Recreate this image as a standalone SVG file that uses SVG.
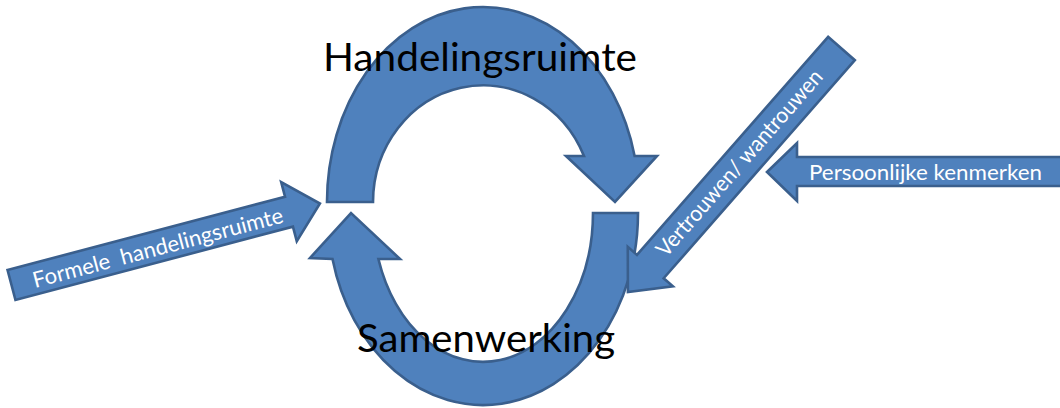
<svg xmlns="http://www.w3.org/2000/svg" width="1060" height="408" viewBox="0 0 1060 408">
  <style>
    .shape { fill: #4f81bd; stroke: #3a5f8d; stroke-width: 2.6; stroke-linejoin: miter; }
    .big { font-family: "Lato", "Open Sans", "Liberation Sans", sans-serif; font-size: 38px; fill: #000000; }
    .lbl { font-family: "Lato", "Open Sans", "Liberation Sans", sans-serif; font-size: 22px; fill: #ffffff; white-space: pre; }
  </style>
  <rect width="1060" height="408" fill="#ffffff"/>

  <!-- the two curved arrows forming the cycle -->
  <g id="connectors">
    <path class="shape" d="M 327,202 A 156 195 0 0 1 634.6,156 L 657,156 L 615,202 L 566,156 L 584,156 A 110 117 0 0 0 373,202 Z"/>
    <path class="shape" d="M 593,213 L 638,213 A 155 192 0 0 1 332.5,259 L 310,258 L 351,213 L 400,259 L 378.4,259 A 110 149 0 0 0 593,213 Z"/>
  </g>

  <g id="handelingsruimte">
    <text class="big" x="323" y="71" textLength="314" lengthAdjust="spacingAndGlyphs">Handelingsruimte</text>
  </g>

  <g id="samenwerking">
    <text class="big" x="357" y="352" textLength="258" lengthAdjust="spacingAndGlyphs">Samenwerking</text>
  </g>

  <g id="formele-handelingsruimte" transform="translate(11.5,285) rotate(-14.8)">
    <polygon class="shape" points="0,-15.5 287,-15.5 287,-30.5 319,0 287,30.5 287,15.5 0,15.5"/>
    <text class="lbl" x="22" y="9" textLength="258" lengthAdjust="spacingAndGlyphs" xml:space="preserve">Formele  handelingsruimte</text>
  </g>

  <g id="persoonlijke-kenmerken">
    <polygon class="shape" points="767,172 797,143 797,157 1064,157 1064,186 797,186 797,201"/>
    <text class="lbl" x="809" y="180" textLength="233" lengthAdjust="spacingAndGlyphs">Persoonlijke kenmerken</text>
  </g>

  <g id="vertrouwen-wantrouwen">
    <polygon class="shape" transform="translate(841.5,48.5) rotate(131.24)" points="0,-17.75 290,-17.75 290,-30 324,0 290,30 290,17.75 0,17.75"/>
    <text class="lbl" transform="translate(745,168) rotate(-48.76)" x="0" y="0" text-anchor="middle" textLength="240" lengthAdjust="spacingAndGlyphs">Vertrouwen/ wantrouwen</text>
  </g>
</svg>
